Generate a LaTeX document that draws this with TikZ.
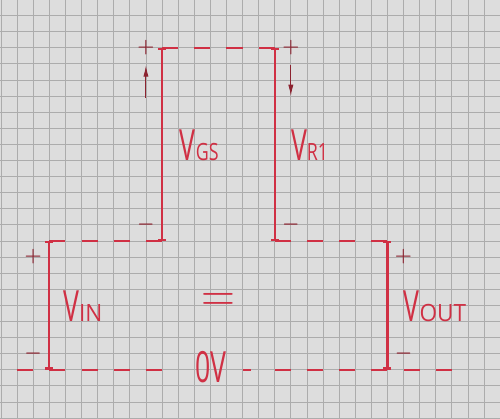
\documentclass[tikz,border=0pt]{standalone}
\usepackage{fontspec}
\setsansfont{Open Sans}
\usepackage{tikz}
\usetikzlibrary{arrows.meta, positioning}
\definecolor{penred}{RGB}{208,48,68}
\definecolor{pendark}{RGB}{140,35,48}
\definecolor{paper}{RGB}{221,221,221}
\definecolor{ruling}{RGB}{172,172,172}
\newcommand{\volt}[3][0.75]{\scalebox{0.62}[1]{\fontsize{38}{40}\selectfont #2}\scalebox{#1}[1]{\fontsize{21}{22}\selectfont #3}}
\tikzstyle{bar} = [draw=penred, line width=2pt, {Bar[width=2.5mm]}-{Bar[width=2.5mm]}]
\tikzstyle{rail} = [draw=penred, line width=1.6pt, dash pattern=on 5mm off 5mm]
\tikzstyle{arrow} = [draw=pendark, line width=0.8pt, -{Latex[length=3.5mm,width=1.6mm]}]
\tikzstyle{sign} = [text=pendark, font=\boldmath\fontsize{17}{17}\selectfont, inner sep=0pt]
\tikzstyle{vname} = [text=penred, font=\sffamily, inner sep=0pt, anchor=base west]
\tikzstyle{ruleline} = [draw=ruling, line width=0.7pt]
\begin{document}
\begin{tikzpicture}[x=5mm, y=-5mm]
    \useasboundingbox (-0.062,-0.963) rectangle (30.99,25.0);
    \clip (-0.062,-0.963) rectangle (30.99,25.0);
    \fill[paper] (-0.062,-0.963) rectangle (30.99,25.0);
    \foreach \u in {0,...,30} \draw[ruleline] (\u,-1) -- (\u,25);
    \foreach \v in {-1,...,25} \draw[ruleline] (-1,\v) -- (31,\v);

    \coordinate (gstop) at (10,2);
    \coordinate (gsbot) at (10,14);
    \coordinate (rtop) at (17,2);
    \coordinate (rbot) at (17,14);
    \coordinate (intop) at (3,14);
    \coordinate (inbot) at (3,22);
    \coordinate (outtop) at (24,14);
    \coordinate (outbot) at (24,22);
    \coordinate (gndl) at (1,22);
    \coordinate (gndm) at (10,22);
    \coordinate (gnds) at (15,22);
    \coordinate (gndt) at (15.5,22);
    \coordinate (gndr) at (17,22);
    \coordinate (gnde) at (28,22);
    \coordinate (gsa) at (9,5.1);
    \coordinate (gsb) at (9,3.1);
    \coordinate (ra) at (18,3.1);
    \coordinate (rb) at (18,5.0);

    \node (gsp) [sign] at (9,2) {$+$};
    \node (gsm) [sign] at (9,13) {$-$};
    \node (rp) [sign] at (18,2) {$+$};
    \node (rm) [sign] at (18,13) {$-$};
    \node (inp) [sign] at (2,15) {$+$};
    \node (inm) [sign] at (2,21) {$-$};
    \node (outp) [sign] at (25,15) {$+$};
    \node (outm) [sign] at (25,21) {$-$};

    \node (vgs) [vname] at (11.1,9.0) {\volt{V}{GS}};
    \node (vr) [vname] at (18.0,9.0) {\volt{V}{R1}};
    \node (vin) [vname] at (3.85,19.0) {\volt[0.95]{V}{IN}};
    \node (vout) [vname] at (25.0,19.0) {\volt[0.95]{V}{OUT}};
    \node (zero) [vname] at (12.05,22.8) {\scalebox{0.62}[1]{\fontsize{38}{40}\selectfont 0V}};
    \node (eq) [text=penred, inner sep=0pt] at (13.48,17.8) {\scalebox{3.9}[4.1]{$=$}};

    \draw [rail] (gstop) -- (rtop);
    \draw [rail] (intop) -- (gsbot);
    \draw [rail] (rbot) -- (outtop);
    \draw [rail] (gndl) -- (gndm);
    \draw [rail] (gnds) -- (gndt);
    \draw [rail] (gndr) -- (gnde);

    \draw [bar] (gstop) -- (gsbot);
    \draw [bar] (rtop) -- (rbot);
    \draw [bar] (intop) -- (inbot);
    \draw [bar] (outtop) -- (outbot);

    \draw [arrow] (gsa) -- (gsb);
    \draw [arrow] (ra) -- (rb);
\end{tikzpicture}
\end{document}
